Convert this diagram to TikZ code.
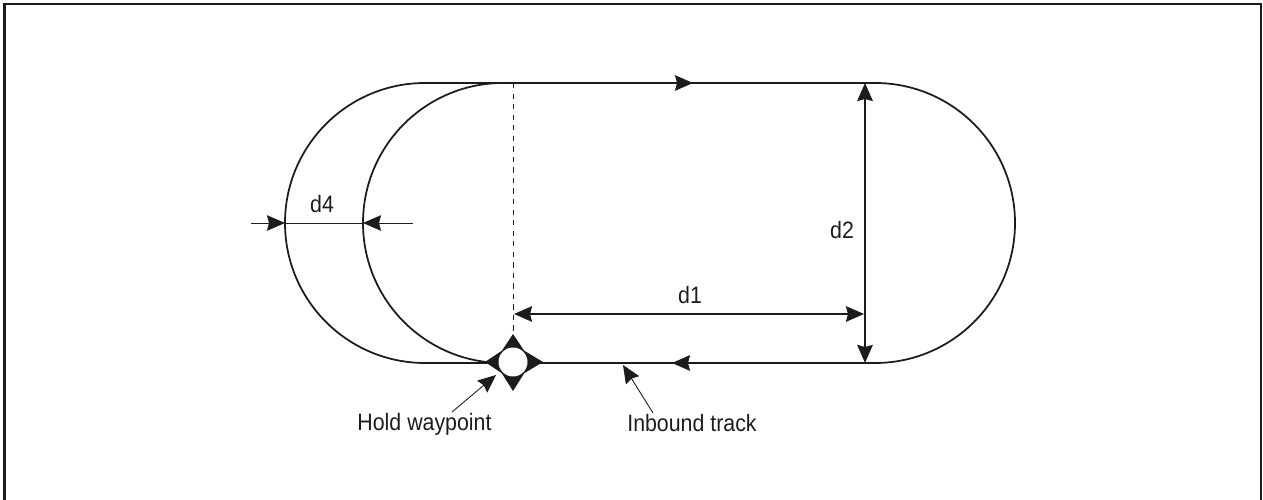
\documentclass[tikz,border=0pt]{standalone}
\usepackage{xcolor}
\usepackage{fontspec}
\setmainfont[FakeStretch=0.9]{Liberation Sans}
\usetikzlibrary{arrows.meta, positioning}
\definecolor{ink}{HTML}{1E1C1A}

\begin{document}
\begin{tikzpicture}[
          track/.style={draw=ink, line width=1pt},
          dim/.style={draw=ink, line width=1.25pt},
          thin line/.style={draw=ink, line width=0.5pt},
          lbl/.style={font=\fontsize{13.5}{15}\selectfont, text=ink, inner sep=0pt, anchor=base},
          ar/.style={-{Stealth[length=3.6mm, width=3.1mm, inset=0.4mm]}},
          br/.style={{Stealth[length=3.6mm, width=3.1mm, inset=0.4mm]}-{Stealth[length=3.6mm, width=3.1mm, inset=0.4mm]}},
          wpt/.style={circle, fill=white, minimum size=0.58cm, inner sep=0pt}
        ]
        \useasboundingbox (0,0) rectangle (25.26,10);
        \draw[ink, line width=1.3pt] (0.09,0) -- (0.09,9.92) -- (25.22,9.92) -- (25.22,0);

        % track
        \coordinate (topL) at (8.5,8.34);
        \coordinate (topI) at (10.06,8.34);
        \coordinate (topD) at (10.26,8.34);
        \coordinate (topM) at (13.86,8.34);
        \coordinate (topR) at (17.5,8.34);
        \coordinate (botL) at (8.5,2.74);
        \coordinate (botM) at (13.44,2.74);
        \coordinate (botR) at (17.5,2.74);
        \coordinate (d2top) at (17.3,8.34);
        \coordinate (d2bot) at (17.3,2.74);

        \draw[track] (topR) arc (90:-90:2.8);
        \draw[track] (topL) arc (90:270:2.8) -- (10.26,2.74);
        \draw[track] (topI) arc (90:270:2.8);
        \draw[track] (topL) -- (topR);
        \draw[track, ar] (topL) -- (topM);
        \draw[track] (botR) -- (10.26,2.74);
        \draw[track, ar] (botR) -- (botM);

        % waypoint
        \fill[ink] (10.26,3.32) -- (10.5,2.96) -- (10.02,2.96) -- cycle;
        \fill[ink] (10.26,2.18) -- (10.5,2.56) -- (10.02,2.56) -- cycle;
        \fill[ink] (10.86,2.76) -- (10.46,3.0) -- (10.46,2.52) -- cycle;
        \fill[ink] (9.7,2.76) -- (10.06,3.0) -- (10.06,2.52) -- cycle;
        \node[wpt] (wp) at (10.26,2.76) {};
        \coordinate (wpTop) at (10.26,3.32);
        \draw[thin line, dashed] (topD) -- (wpTop);

        % d1, d2
        \coordinate (d1a) at (10.28,3.72);
        \coordinate (d1b) at (17.28,3.72);
        \draw[dim, br] (d1a) -- (d1b);
        \node[lbl] (d1) at (13.8,3.92) {d1};
        \draw[dim, br] (d2top) -- (d2bot);
        \node[lbl] (d2) at (16.84,5.22) {d2};

        % d4
        \coordinate (d4a) at (5.02,5.54);
        \coordinate (d4l) at (5.7,5.54);
        \coordinate (d4r) at (7.26,5.54);
        \coordinate (d4b) at (8.26,5.54);
        \draw[thin line] (d4l) -- (d4r);
        \draw[thin line, ar] (d4a) -- (d4l);
        \draw[thin line, ar] (d4b) -- (d4r);
        \node[lbl] (d4) at (6.44,5.74) {d4};

        % callouts
        \node[lbl] (hold) at (8.49,1.38) {Hold waypoint};
        \node[lbl] (inb) at (13.84,1.36) {Inbound track};
        \coordinate (holdTip) at (9.92,2.5);
        \coordinate (inbTip) at (12.46,2.7);
        \draw[thin line, ar] (9.04,1.76) -- (holdTip);
        \draw[thin line, ar] (13.06,1.74) -- (inbTip);
      \end{tikzpicture}
\end{document}
